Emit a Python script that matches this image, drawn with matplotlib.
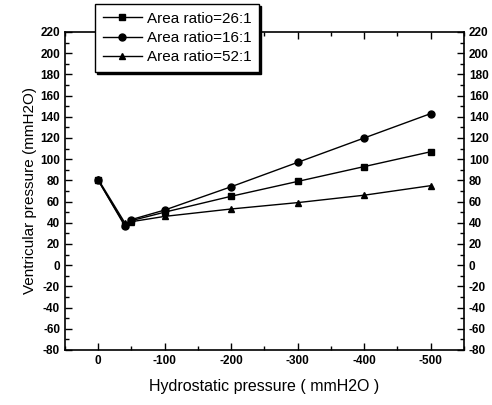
import matplotlib.pyplot as plt
from matplotlib.ticker import MultipleLocator

plt.rcParams['font.family'] = ['Liberation Sans', 'DejaVu Sans']
plt.rcParams['axes.unicode_minus'] = False

# Datos
presion_hidro = [0, -40, -50, -100, -200, -300, -400, -500]
ratio_26 = [80, 38, 42, 50, 65, 79, 93, 107]
ratio_16 = [80, 37, 43, 52, 74, 97, 120, 143]
ratio_52 = [81, 40, 41, 46, 53, 59, 66, 75]
etiquetas = ['Area ratio=26:1', 'Area ratio=16:1', 'Area ratio=52:1']

fig = plt.figure(figsize=(4.92, 4.05), dpi=100)
ax = fig.add_axes([0.132, 0.136, 0.811, 0.785])

ax.plot(presion_hidro, ratio_26, marker='s', color='black', lw=1, ms=5, label=etiquetas[0])
ax.plot(presion_hidro, ratio_16, marker='o', color='black', lw=1, ms=5, label=etiquetas[1])
ax.plot(presion_hidro, ratio_52, marker='^', color='black', lw=1, ms=5, label=etiquetas[2])

ax.set_xlim(50, -550)
ax.set_ylim(-80, 220)
ax.xaxis.set_major_locator(MultipleLocator(100))
ax.xaxis.set_minor_locator(MultipleLocator(50))
ax.yaxis.set_major_locator(MultipleLocator(20))
ax.yaxis.set_minor_locator(MultipleLocator(10))
ax.tick_params(which='both', direction='in', top=True, right=True, labelright=True,
               labelsize=8.5, width=1)
ax.tick_params(which='major', length=5)
ax.tick_params(which='minor', length=3)
for lado in ax.spines.values():
    lado.set_linewidth(1.2)

ax.set_xlabel('Hydrostatic pressure ( mmH2O )', fontsize=11.5, labelpad=9)
ax.set_ylabel('Ventricular pressure (mmH2O)', fontsize=11, labelpad=2)

leg = ax.legend(loc='upper left', bbox_to_anchor=(0.193, 0.99),
                bbox_transform=fig.transFigure, frameon=True, fancybox=False,
                shadow={'color': 'black', 'alpha': 1, 'ox': 1.5, 'oy': -1.5},
                edgecolor='black', fontsize=11, handlelength=2.6,
                handletextpad=0.3, borderaxespad=0, labelspacing=0.35,
                borderpad=0.5)
leg.get_frame().set_linewidth(1)

# etiquetas de los ejes en negrita (también las de la derecha)
for tick in ax.xaxis.get_major_ticks() + ax.yaxis.get_major_ticks():
    tick.label1.set_fontweight('bold')
    tick.label2.set_fontweight('bold')

fig.savefig('out.png', dpi=100)
